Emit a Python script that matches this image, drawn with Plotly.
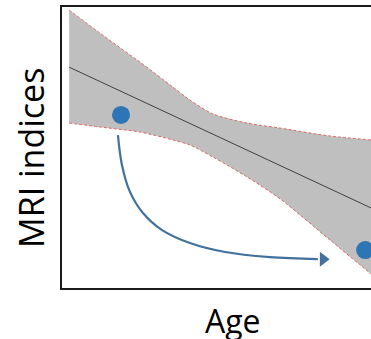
import plotly.graph_objects as go

# Band (confidence region)
band_x = [2.3, 12.3, 25.2, 35.9, 41.4, 48.9, 59.9, 70.6, 86.7, 100.0]
band_upper = [98.9, 90.7, 80.4, 71.5, 66.9, 61.9, 58.7, 56.9, 54.1, 52.7]
band_lower = [58.7, 57.3, 55.5, 52.7, 50.9, 46.6, 39.5, 31.7, 17.1, 5.0]

# Mean trend line
trend_x = [2.3, 44.7, 100.0]
trend_y = [78.6, 56.9, 28.5]

# Two subjects
dots_x = [19.1, 98.1]
dots_y = [61.6, 13.5]

# Curved arrow path
arrow_x = [18.1, 19.4, 22.0, 26.2, 32.4, 41.4, 52.8, 67.3, 82.8]
arrow_y = [54.4, 43.8, 34.2, 26.7, 20.6, 16.0, 12.8, 11.0, 10.3]
arrow_head_x = [84.5]
arrow_head_y = [10.2]

RED = "#D9686A"
fig = go.Figure()

fig.add_trace(go.Scatter(x=band_x, y=band_lower, mode="lines",
                         line=dict(color=RED, width=1, dash="3px,2px",
                                   shape="spline", smoothing=0.8),
                         hoverinfo="skip"))
fig.add_trace(go.Scatter(x=band_x, y=band_upper, mode="lines", fill="tonexty",
                         fillcolor="#BFBFBF",
                         line=dict(color=RED, width=1, dash="3px,2px",
                                   shape="spline", smoothing=0.8),
                         hoverinfo="skip"))
fig.add_trace(go.Scatter(x=trend_x, y=trend_y, mode="lines",
                         line=dict(color="#404040", width=1)))
fig.add_trace(go.Scatter(x=arrow_x, y=arrow_y, mode="lines",
                         line=dict(color="#41719C", width=2.2, shape="spline", smoothing=1)))
fig.add_trace(go.Scatter(x=arrow_head_x, y=arrow_head_y, mode="markers",
                         marker=dict(symbol="triangle-right", size=13, color="#41719C")))
fig.add_trace(go.Scatter(x=dots_x, y=dots_y, mode="markers",
                         marker=dict(size=18, color="#2E75B6"), cliponaxis=False))

fig.update_layout(
    width=371, height=339,
    margin=dict(l=62, r=0, t=7, b=51),
    paper_bgcolor="white", plot_bgcolor="white",
    showlegend=False,
    xaxis=dict(range=[0, 100], showgrid=False, zeroline=False, showticklabels=False,
               ticks="", showline=True, linecolor="#1a1a1a", linewidth=2, mirror=True),
    yaxis=dict(range=[0, 100], showgrid=False, zeroline=False, showticklabels=False,
               ticks="", showline=True, linecolor="#1a1a1a", linewidth=2, mirror=False),
    annotations=[
        dict(text="MRI indices", textangle=-90, xref="paper", yref="paper",
             x=0, y=0.463, xshift=-31, xanchor="center", yanchor="middle",
             showarrow=False, font=dict(family="Open Sans", size=34, color="black")),
        dict(text="Age", xref="paper", yref="paper", x=0.553, y=-0.117,
             xanchor="center", yanchor="middle", showarrow=False,
             font=dict(family="Open Sans", size=32, color="black")),
    ],
)

fig.write_html("out.html", config={"displayModeBar": False},
               post_script="document.body.style.margin='0';document.body.style.overflow='hidden';")
